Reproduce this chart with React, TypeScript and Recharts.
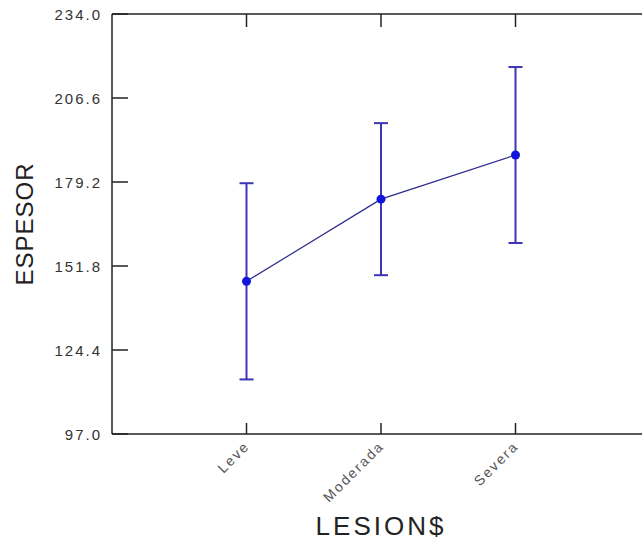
import React from 'react';
import { ComposedChart, Line, ErrorBar, XAxis, YAxis } from 'recharts';

// group means and half-width of the error bars
const categories = ['Leve', 'Moderada', 'Severa'];
const means = [146.8, 173.6, 188.0];
const errors = [32.0, 24.8, 28.7];
const yTicks = [97.0, 124.4, 151.8, 179.2, 206.6, 234.0];
const xTicks = [1, 2, 3];

const data = categories.map((name, i) => ({
  pos: i + 1,
  name,
  espesor: means[i],
  err: errors[i],
}));

const AXIS = '#222';
const FONT = '"Liberation Sans", Arial, sans-serif';
// recharts places the tick props at axis + tickSize + tickMargin
const TS = 10;
const TM = 5;
const OFF = TS + TM;

const BottomTick = ({ x, y, payload }: any) => {
  const ay = y - OFF;
  const tx = x + 4;
  const ty = ay + 13;
  return (
    <g>
      <line x1={x} y1={ay} x2={x} y2={ay - 11} stroke={AXIS} strokeWidth={1.5} />
      <text
        x={tx}
        y={ty}
        transform={`rotate(-45, ${tx}, ${ty})`}
        textAnchor="end"
        fontSize={14}
        letterSpacing={2}
        fontFamily={FONT}
        fill="#555"
      >
        {categories[payload.value - 1]}
      </text>
    </g>
  );
};

const TopTick = ({ x, y }: any) => {
  const ay = y + OFF;
  return <line x1={x} y1={ay} x2={x} y2={ay + 13} stroke={AXIS} strokeWidth={1.5} />;
};

const LeftTick = ({ x, y, payload }: any) => {
  const ax = x + OFF;
  return (
    <g>
      <line x1={ax} y1={y} x2={ax + 16} y2={y} stroke={AXIS} strokeWidth={1.5} />
      <text
        x={ax - 10}
        y={y}
        textAnchor="end"
        dominantBaseline="central"
        fontSize={15}
        letterSpacing={2}
        fontFamily={FONT}
        fill="#333"
      >
        {Number(payload.value).toFixed(1)}
      </text>
    </g>
  );
};

const RightTick = ({ x, y }: any) => {
  const ax = x - OFF;
  return <line x1={ax} y1={y} x2={ax - 14} y2={y} stroke={AXIS} strokeWidth={1.5} />;
};

export default function App() {
  return (
    <div style={{ position: 'absolute', left: 0, top: 0, width: 642, height: 542, overflow: 'hidden', background: '#fff' }}>
      <ComposedChart width={660} height={542} data={data} margin={{ top: 4, right: 0, bottom: 0, left: 0 }}>
        <XAxis
          xAxisId="bottom"
          dataKey="pos"
          type="number"
          domain={[0, 4]}
          ticks={xTicks}
          interval={0}
          height={108}
          tickSize={TS}
          tickMargin={TM}
          tickLine={false}
          axisLine={{ stroke: AXIS, strokeWidth: 1.5 }}
          tick={<BottomTick />}
          label={{
            value: 'LESION$',
            position: 'insideBottom',
            offset: 7,
            style: { fontSize: 26, letterSpacing: 3, fontFamily: FONT, fill: '#222' },
          }}
        />
        <XAxis
          xAxisId="top"
          orientation="top"
          dataKey="pos"
          type="number"
          domain={[0, 4]}
          ticks={xTicks}
          interval={0}
          height={10}
          tickSize={TS}
          tickMargin={TM}
          tickLine={false}
          axisLine={{ stroke: AXIS, strokeWidth: 1.5 }}
          tick={<TopTick />}
        />
        <YAxis
          yAxisId="left"
          type="number"
          domain={[97, 234]}
          ticks={yTicks}
          interval={0}
          width={112}
          tickSize={TS}
          tickMargin={TM}
          tickLine={false}
          axisLine={{ stroke: AXIS, strokeWidth: 1.5 }}
          tick={<LeftTick />}
          label={{
            value: 'ESPESOR',
            angle: -90,
            position: 'insideLeft',
            offset: 24,
            style: { textAnchor: 'middle', fontSize: 24, letterSpacing: 1, fontFamily: FONT, fill: '#222' },
          }}
        />
        <YAxis
          yAxisId="right"
          orientation="right"
          type="number"
          domain={[97, 234]}
          ticks={yTicks}
          interval={0}
          width={10}
          tickSize={TS}
          tickMargin={TM}
          tickLine={false}
          axisLine={{ stroke: AXIS, strokeWidth: 1.5 }}
          tick={<RightTick />}
        />
        <Line
          xAxisId="bottom"
          yAxisId="left"
          dataKey="espesor"
          type="linear"
          stroke="#2d2a8c"
          strokeWidth={1.2}
          dot={{ r: 4.5, fill: '#1414e0', stroke: 'none' }}
          activeDot={false}
          isAnimationActive={false}
        >
          <ErrorBar dataKey="err" direction="y" width={7} stroke="#3d35b5" strokeWidth={2} isAnimationActive={false} />
        </Line>
      </ComposedChart>
    </div>
  );
}
